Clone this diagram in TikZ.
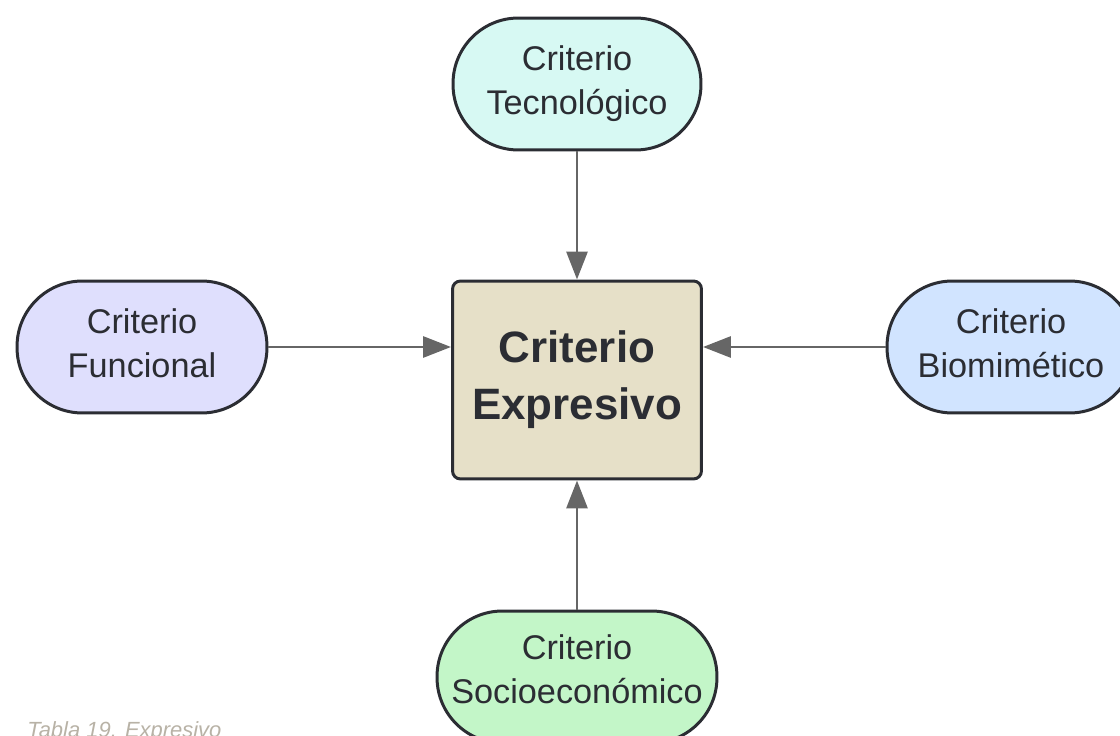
\documentclass[tikz,border=0pt]{standalone}
\usepackage{fontspec}
\setmainfont{Liberation Sans}
\usepackage{xcolor}
\usetikzlibrary{arrows.meta}
\usetikzlibrary{positioning}
\definecolor{DarkLine}{HTML}{2B2D33}
\definecolor{ArrowGray}{HTML}{666666}
\definecolor{LightCyan}{HTML}{D7F9F3}
\definecolor{LightLilac}{HTML}{DFDFFD}
\definecolor{LightBlue}{HTML}{D1E4FF}
\definecolor{LightMint}{HTML}{C3F6C8}
\definecolor{Sand}{HTML}{E6E0C8}
\definecolor{CaptionGray}{HTML}{B8B2A6}

\begin{document}
\begin{tikzpicture}[x=0.02cm, y=-0.02cm,
  every node/.style={text=DarkLine, align=center},
  pill/.style={draw=DarkLine, line width=1.7pt, rounded corners=1.31cm,
    minimum height=2.64cm, inner sep=0pt, text depth=4.5pt,
    font=\fontsize{19.5}{25}\selectfont},
  core/.style={draw=DarkLine, line width=1.7pt, rounded corners=0.16cm,
    fill=Sand, minimum width=4.98cm, minimum height=3.96cm,
    font=\fontsize{25}{32.5}\selectfont\bfseries},
  link/.style={ArrowGray, line width=1.7pt,
    -{Triangle[length=0.56cm, width=0.42cm]}}]
  \useasboundingbox (0,0) rectangle (1120,736);
  \clip (0,0) rectangle (1120,736);

  \node[core] (Expresivo) at (577,380) {Criterio\\Expresivo};

  \node[pill, fill=LightCyan, minimum width=4.96cm] (Tecnologico)
    at (577,84) {Criterio\\Tecnológico};
  \node[pill, fill=LightLilac, minimum width=5.0cm] (Funcional)
    at (142,347) {Criterio\\Funcional};
  \node[pill, fill=LightBlue, minimum width=4.96cm] (Biomimetico)
    at (1011,347) {Criterio\\Biomimético};
  \node[pill, fill=LightMint, minimum width=5.6cm, text depth=9pt]
    (Socioeconomico) at (577,677) {Criterio\\Socioeconómico};

  \draw [link] (Tecnologico) -- (Expresivo);
  \draw [link] (Funcional) -- (Expresivo.west |- Funcional);
  \draw [link] (Biomimetico) -- (Expresivo.east |- Biomimetico);
  \draw [link] (Socioeconomico) -- (Expresivo);

  \node [anchor=base west, text=CaptionGray, inner sep=0pt,
    font=\fontsize{12.5}{15}\selectfont\itshape] (Caption)
    at (27,737) {Tabla 19. Expresivo};
\end{tikzpicture}
\end{document}
